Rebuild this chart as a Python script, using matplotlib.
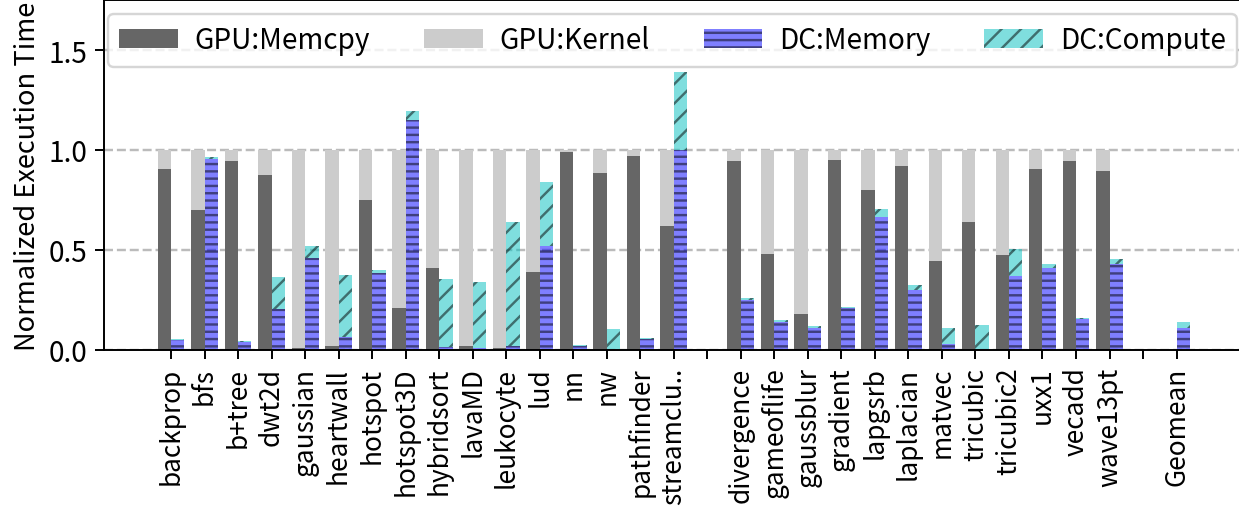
import numpy as np
import matplotlib
matplotlib.use('Agg')
import matplotlib.pyplot as plt
from matplotlib.patches import Patch

plt.rcParams['font.family'] = ['Noto Sans CJK JP', 'DejaVu Sans']
plt.rcParams['hatch.linewidth'] = 1.0

# benchmarks ('' = gap between suites)
labels = ['backprop', 'bfs', 'b+tree', 'dwt2d', 'gaussian', 'heartwall', 'hotspot',
          'hotspot3D', 'hybridsort', 'lavaMD', 'leukocyte', 'lud', 'nn', 'nw',
          'pathfinder', 'streamclu..', '',
          'divergence', 'gameoflife', 'gaussblur', 'gradient', 'lapgsrb', 'laplacian',
          'matvec', 'tricubic', 'tricubic2', 'uxx1', 'vecadd', 'wave13pt', '',
          'Geomean']

# GPU breakdown (normalized to GPU total)
gpu_memcpy = [0.907, 0.700, 0.947, 0.874, 0.010, 0.017, 0.747, 0.206, 0.406, 0.020,
              0.010, 0.386, 0.991, 0.887, 0.972, 0.617, 0,
              0.947, 0.481, 0.180, 0.952, 0.797, 0.922, 0.446, 0.637, 0.476, 0.907,
              0.947, 0.897, 0, 0]
gpu_kernel = [0.093, 0.300, 0.053, 0.126, 0.990, 0.983, 0.253, 0.794, 0.594, 0.980,
              0.990, 0.614, 0.009, 0.113, 0.028, 0.383, 0,
              0.053, 0.519, 0.820, 0.048, 0.203, 0.078, 0.554, 0.363, 0.524, 0.093,
              0.053, 0.103, 0, 0]

# DC breakdown
dc_memory = [0.048, 0.955, 0.037, 0.204, 0.458, 0.064, 0.384, 1.151, 0.013, 0.008,
             0.020, 0.520, 0.020, 0.003, 0.055, 1.000, 0,
             0.250, 0.137, 0.109, 0.207, 0.665, 0.299, 0.030, 0.003, 0.368, 0.410,
             0.155, 0.430, 0, 0.109]
dc_compute = [0.007, 0.012, 0.005, 0.158, 0.063, 0.310, 0.015, 0.042, 0.338, 0.328,
              0.617, 0.317, 0.002, 0.102, 0.002, 0.393, 0,
              0.010, 0.012, 0.010, 0.008, 0.040, 0.022, 0.080, 0.122, 0.138, 0.020,
              0.005, 0.026, 0, 0.031]

x = np.arange(len(labels))
w = 0.4

fig = plt.figure(figsize=(1239 / 175, 509 / 175), dpi=175)
ax = fig.add_axes([104 / 1239, 1 - 350.5 / 509, 1139.6 / 1239, 349.2 / 509])

ax.bar(x - w / 2, gpu_memcpy, w, color='#666666', linewidth=0, zorder=2)
ax.bar(x - w / 2, gpu_kernel, w, bottom=gpu_memcpy, color='#cccccc', linewidth=0, zorder=2)
ax.bar(x + w / 2, dc_memory, w, color='b', alpha=0.5, edgecolor='k', linewidth=0,
       hatch='----', zorder=2)
ax.bar(x + w / 2, dc_compute, w, bottom=dc_memory, color='c', alpha=0.5, edgecolor='k',
       linewidth=0, hatch='///', zorder=2)

ax.set_xlim(-2, 32)
ax.set_ylim(0, 1.75)
ax.set_xticks(x)
ax.set_xticklabels(labels, rotation=90, fontsize=10.8)
ax.set_yticks([0, 0.5, 1.0, 1.5])
ax.set_yticklabels(['0.0', '0.5', '1.0', '1.5'], fontsize=11.5)
ax.set_ylabel('Normalized Execution Time', fontsize=11.2, labelpad=3)
ax.yaxis.grid(True, linestyle='--', color='#bbbbbb', linewidth=1.0, zorder=0)
ax.set_axisbelow(True)

handles = [Patch(facecolor='#666666', linewidth=0),
           Patch(facecolor='#cccccc', linewidth=0),
           Patch(facecolor='b', alpha=0.5, edgecolor='k', linewidth=0, hatch='----'),
           Patch(facecolor='c', alpha=0.5, edgecolor='k', linewidth=0, hatch='///')]
ax.legend(handles, ['GPU:Memcpy', 'GPU:Kernel', 'DC:Memory', 'DC:Compute'],
          ncol=4, loc='upper left', mode='expand', borderaxespad=0,
          bbox_to_anchor=(0.0035, 0, 0.9907, 0.96), fontsize=11.5,
          handlelength=2.1, handletextpad=0.6)

plt.savefig('out.png', dpi=175)
